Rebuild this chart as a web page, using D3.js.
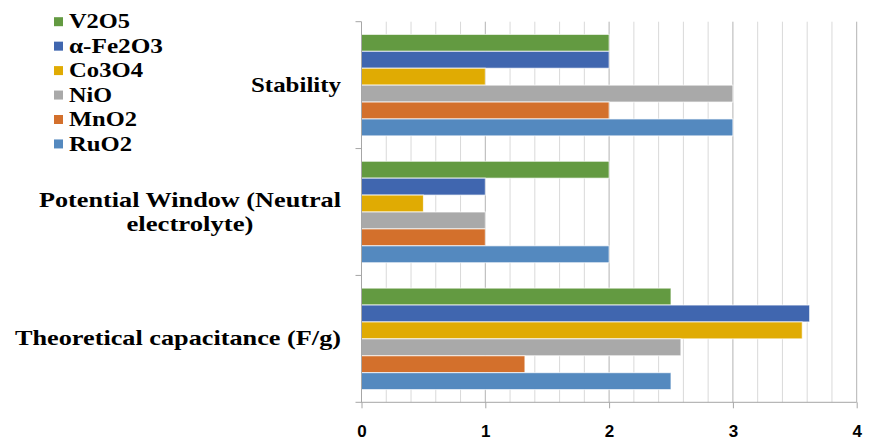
<!DOCTYPE html>
<html><head><meta charset="utf-8">
<script src="https://cdn.jsdelivr.net/npm/d3@7"></script>
<style>body{margin:0;background:#fff}svg{display:block}</style>
</head><body><svg id="c" width="879" height="440"></svg>
<script>
const categories = ["Stability", "Potential Window (Neutral electrolyte)", "Theoretical capacitance (F/g)"];
const categoryLines = [["Stability"], ["Potential Window (Neutral", "electrolyte)"], ["Theoretical capacitance (F/g)"]];
const seriesNames = ["V2O5", "α-Fe2O3", "Co3O4", "NiO", "MnO2", "RuO2"];
const seriesColors = ["#639a41", "#4066af", "#e0ab03", "#a9a9a9", "#d3702c", "#5489bf"];
const V2O5   = [2, 2, 2.5];
const Fe2O3  = [2, 1, 3.62];
const Co3O4  = [1, 0.5, 3.56];
const NiO    = [3, 1, 2.58];
const MnO2   = [2, 1, 1.32];
const RuO2   = [3, 2, 2.5];
const seriesValues = [V2O5, Fe2O3, Co3O4, NiO, MnO2, RuO2];
const xTicks = [0, 1, 2, 3, 4];

const svg = d3.select("#c");
const L = 361.5, R = 856.7, T = 21.7, B = 402.3;
const x = d3.scaleLinear().domain([0, 4]).range([L, R]);
const y0 = d3.scaleBand().domain(categories).range([T, B]).paddingInner(0.2).paddingOuter(0.1);
const y1 = d3.scaleBand().domain(seriesNames).range([0, y0.bandwidth()]).padding(0);

const serifFont = "\"Liberation Serif\"";
const sansFont = "\"Liberation Sans\"";
function fitText(sel, targetW) {
  sel.attr("textLength", targetW).attr("lengthAdjust", "spacingAndGlyphs");
}

// minor gridlines
const minor = d3.range(0, 4.0001, 0.2).filter(v => Math.abs(v - Math.round(v)) > 1e-6);
svg.append("g").selectAll("line").data(minor).join("line")
  .attr("x1", d => x(d)).attr("x2", d => x(d)).attr("y1", T).attr("y2", B)
  .attr("stroke", "#d9d9d9").attr("stroke-width", 1);
// major gridlines
svg.append("g").selectAll("line").data(xTicks.slice(1)).join("line")
  .attr("x1", d => x(d)).attr("x2", d => x(d)).attr("y1", T).attr("y2", B)
  .attr("stroke", "#b3b3b3").attr("stroke-width", 1);

// bars
const g = svg.append("g");
categories.forEach((c, ci) => {
  seriesNames.forEach((s, si) => {
    const v = seriesValues[si][ci];
    g.append("rect")
      .attr("x", x(0)).attr("y", y0(c) + y1(s))
      .attr("width", x(v) - x(0)).attr("height", y1.bandwidth())
      .attr("fill", seriesColors[si])
      .attr("stroke", "#ffffff").attr("stroke-opacity", 0.75).attr("stroke-width", 1);
  });
});

// axes
const ax = svg.append("g").attr("transform", `translate(0,${B})`)
  .call(d3.axisBottom(x).tickValues(xTicks).tickSize(6).tickFormat(d3.format("d")));
ax.select(".domain").remove();
ax.selectAll(".tick line").attr("stroke", "#a6a6a6");
ax.selectAll(".tick text").attr("dy", 0).attr("y", 34.5)
  .style("font-family", sansFont).style("font-weight", "bold")
  .style("font-size", "17px").attr("fill", "#000");
svg.append("line").attr("x1", L - 6).attr("x2", R).attr("y1", B).attr("y2", B).attr("stroke", "#a6a6a6");
svg.append("line").attr("x1", L).attr("x2", L).attr("y1", T).attr("y2", B).attr("stroke", "#a6a6a6");
// category boundary ticks
const bounds = [T].concat(categories.slice(0, -1).map((c, i) => (y0(c) + y0.bandwidth() + y0(categories[i+1])) / 2));
svg.append("g").selectAll("line").data(bounds).join("line")
  .attr("x1", L - 6).attr("x2", L).attr("y1", d => d).attr("y2", d => d).attr("stroke", "#a6a6a6");

// category labels
const catWidths = [[90], [302, 127], [326]];
categories.forEach((c, ci) => {
  const cy = y0(c) + y0.bandwidth() / 2;
  const lines = categoryLines[ci];
  const lh = 24;
  const blockW = d3.max(catWidths[ci]);
  const cx = 341 - blockW / 2;
  lines.forEach((ln, li) => {
    const t = svg.append("text").attr("text-anchor", "middle")
      .attr("x", cx).attr("y", cy + (li - (lines.length - 1) / 2) * lh + 6.6)
      .style("font-family", serifFont).style("font-weight", "bold").style("font-size", "21px")
      .attr("fill", "#000").text(ln);
    fitText(t, catWidths[ci][li]);
  });
});

// legend
const legendWidths = [61, 94, 74, 43, 68, 63];
const lg = svg.append("g");
seriesNames.forEach((s, i) => {
  const yy = 21.7 + i * 24.45;
  lg.append("rect").attr("x", 54).attr("y", yy - 4.5).attr("width", 9).attr("height", 9).attr("fill", seriesColors[i]);
  const t = lg.append("text").attr("x", 69).attr("y", yy + 6.6).text(s)
    .style("font-family", serifFont).style("font-weight", "bold").style("font-size", "21px").attr("fill", "#000");
  fitText(t, legendWidths[i]);
});
</script></body></html>
